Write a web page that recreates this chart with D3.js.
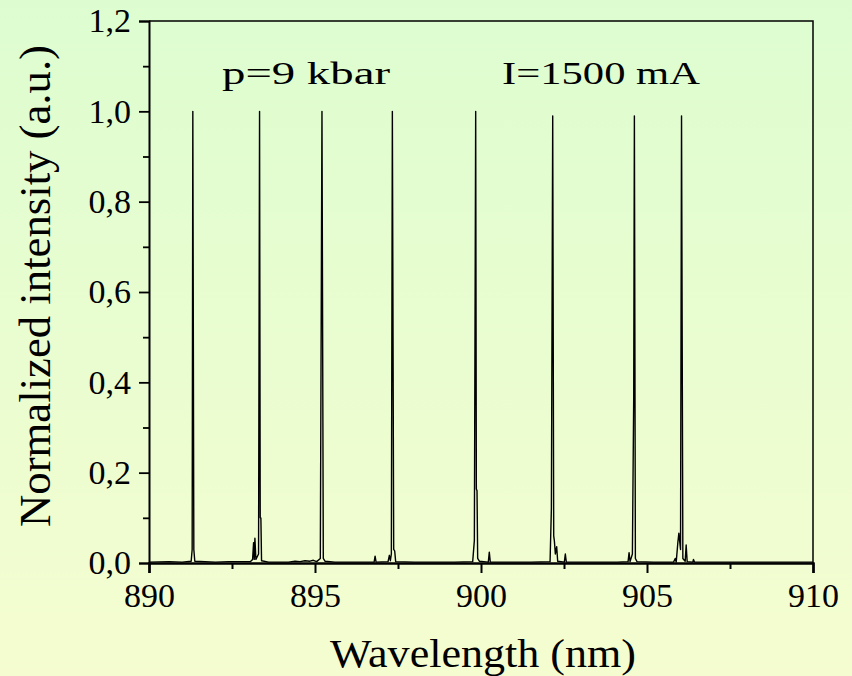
<!DOCTYPE html>
<html>
<head>
<meta charset="utf-8">
<script src="https://cdn.jsdelivr.net/npm/d3@7"></script>
<style>
  body { margin: 0; overflow: hidden; }
  svg text { font-family: 'Liberation Serif'; fill: #000; }
</style>
</head>
<body>
<script>
const m = {
    width: 852,
    height: 676,
    left: 149,
    right: 813,
    top: 21,
    bottom: 563
}

// spectrum (nm, normalized intensity)
const wavelength = [
    890.00, 890.60, 891.00, 891.27, 891.30, 891.32, 891.35, 891.38,
    892.00, 892.40, 893.05, 893.12, 893.15, 893.17, 893.19, 893.22, 893.30, 893.33, 893.35, 893.37, 893.39, 893.60,
    894.20, 894.40, 894.55, 894.70, 894.85, 894.95, 895.05, 895.16, 895.21, 895.25, 895.30, 895.60,
    896.20, 896.78, 896.81, 896.84, 897.20, 897.24, 897.27, 897.30, 897.33, 897.37, 897.40, 897.43,
    898.00, 898.60, 899.20, 899.75, 899.80, 899.84, 899.86, 899.88, 899.90, 899.95, 900.22, 900.25, 900.28,
    900.80, 901.50, 902.08, 902.12, 902.16, 902.19, 902.21, 902.24, 902.28, 902.31, 902.51, 902.54, 902.57,
    903.00, 903.60, 904.10, 904.43, 904.46, 904.49, 904.56, 904.60, 904.62, 904.65, 904.70,
    905.20, 905.80, 905.85, 905.88, 905.93, 905.96, 906.01, 906.04, 906.08, 906.15, 906.18, 906.21, 906.38, 906.40, 906.43,
    907.00, 908.00, 909.00, 910.00
]
const intensity = [
    0.002, 0.003, 0.002, 0.004, 0.03, 1.00, 0.03, 0.004,
    0.002, 0.003, 0.003, 0.008, 0.045, 0.008, 0.055, 0.008, 0.02, 1.00, 0.10, 0.10, 0.005, 0.002,
    0.002, 0.004, 0.003, 0.005, 0.004, 0.006, 0.003, 0.01, 1.00, 0.01, 0.004, 0.002,
    0.002, 0.002, 0.015, 0.002, 0.003, 0.017, 0.005, 0.02, 1.00, 0.03, 0.027, 0.003,
    0.002, 0.002, 0.002, 0.003, 0.05, 1.00, 0.164, 0.16, 0.01, 0.004, 0.002, 0.024, 0.002,
    0.002, 0.002, 0.003, 0.12, 0.99, 0.06, 0.049, 0.02, 0.036, 0.004, 0.002, 0.02, 0.002,
    0.002, 0.002, 0.002, 0.003, 0.023, 0.003, 0.02, 0.37, 0.99, 0.01, 0.003,
    0.002, 0.002, 0.01, 0.002, 0.046, 0.066, 0.03, 0.99, 0.01, 0.004, 0.04, 0.003, 0.002, 0.008, 0.002,
    0.002, 0.002, 0.002, 0.002
]

const xTicks = [890, 895, 900, 905, 910]
const xMinor = [892.5, 897.5, 902.5, 907.5]
const yTicks = [0, 0.2, 0.4, 0.6, 0.8, 1.0, 1.2]
const yMinor = [0.1, 0.3, 0.5, 0.7, 0.9, 1.1]

const svg = d3.select("body").append('svg')
    .attr('width', m.width)
    .attr('height', m.height)

// background gradient, green on top to yellow at the bottom
const grad = svg.append('defs').append('linearGradient')
    .attr('id', 'bg')
    .attr('x1', 0).attr('y1', 0).attr('x2', 0).attr('y2', 1)
grad.append('stop').attr('offset', '0%').attr('stop-color', '#ddfdd0')
grad.append('stop').attr('offset', '100%').attr('stop-color', '#f5fdd0')

svg.append('rect')
    .attr('width', m.width)
    .attr('height', m.height)
    .attr('fill', 'url(#bg)')

const x = d3.scaleLinear().domain([890, 910]).range([m.left, m.right])
const y = d3.scaleLinear().domain([0, 1.2]).range([m.bottom, m.top])

const fmt = d => d3.format('.1f')(d).replace('.', ',')

// frame top and right
svg.append('path')
    .attr('d', `M${m.left},${m.top}H${m.right}V${m.bottom}`)
    .attr('fill', 'none')
    .attr('stroke', '#000')
    .attr('stroke-width', 1.5)

// spectrum
const pts = wavelength.map((w, i) => [w, intensity[i]])
const line = d3.line()
    .x(d => x(d[0]))
    .y(d => y(d[1]))

svg.append('path')
    .datum(pts)
    .attr('d', line)
    .attr('fill', 'none')
    .attr('stroke', '#000')
    .attr('stroke-width', 1.4)
    .attr('stroke-linejoin', 'round')

// bottom axis
const xAxis = svg.append('g')
    .attr('transform', `translate(0,${m.bottom})`)
    .call(d3.axisBottom(x).tickValues(xTicks).tickFormat(d3.format('d')).tickSize(10).tickPadding(10))
xAxis.select('.domain').attr('stroke-width', 2.5)
xAxis.selectAll('.tick line').attr('stroke-width', 2)
xAxis.selectAll('text').attr('font-size', 34)

svg.append('g')
    .attr('transform', `translate(0,${m.bottom})`)
    .call(d3.axisBottom(x).tickValues(xMinor).tickFormat('').tickSize(6))
    .call(g => g.select('.domain').remove())
    .selectAll('.tick line').attr('stroke-width', 2)

// left axis
const yAxis = svg.append('g')
    .attr('transform', `translate(${m.left},0)`)
    .call(d3.axisLeft(y).tickValues(yTicks).tickFormat(fmt).tickSize(10).tickPadding(8))
yAxis.select('.domain').attr('stroke-width', 2)
yAxis.selectAll('.tick line').attr('stroke-width', 1.8)
yAxis.selectAll('text').attr('font-size', 34)

svg.append('g')
    .attr('transform', `translate(${m.left},0)`)
    .call(d3.axisLeft(y).tickValues(yMinor).tickFormat('').tickSize(6))
    .call(g => g.select('.domain').remove())
    .selectAll('.tick line').attr('stroke-width', 1.8)

// axis titles
svg.append('text')
    .attr('x', 330)
    .attr('y', 667)
    .attr('font-size', 39)
    .attr('textLength', 306)
    .attr('lengthAdjust', 'spacingAndGlyphs')
    .text('Wavelength (nm)')

svg.append('text')
    .attr('transform', 'translate(50,527) rotate(-90)')
    .attr('font-size', 45)
    .attr('textLength', 482)
    .attr('lengthAdjust', 'spacingAndGlyphs')
    .text('Normalized intensity (a.u.)')

// annotations
svg.append('text')
    .attr('x', 222)
    .attr('y', 84)
    .attr('font-size', 32)
    .attr('textLength', 168)
    .attr('lengthAdjust', 'spacingAndGlyphs')
    .text('p=9 kbar')

svg.append('text')
    .attr('x', 502)
    .attr('y', 84)
    .attr('font-size', 32)
    .attr('textLength', 198)
    .attr('lengthAdjust', 'spacingAndGlyphs')
    .text('I=1500 mA')
</script>
</body>
</html>
